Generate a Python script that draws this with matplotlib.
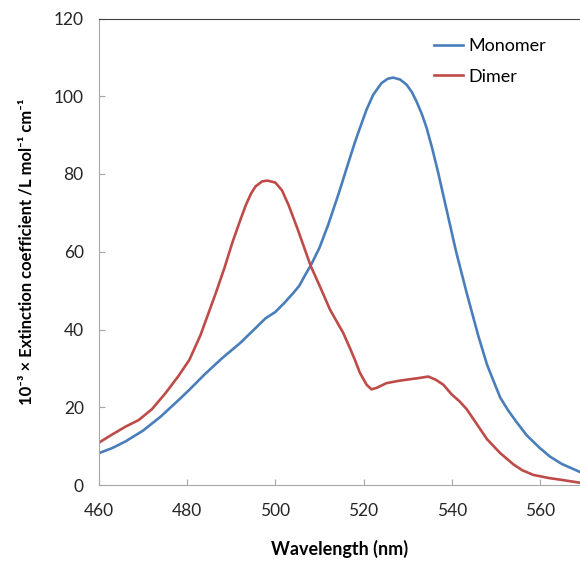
import matplotlib
matplotlib.use("Agg")
import matplotlib.pyplot as plt

plt.rcParams['font.family'] = ['Lato', 'DejaVu Sans']

# Monomer spectrum
mono_wl = [460, 463, 466, 470, 474, 478, 480.5, 484, 488, 492, 495, 497.8, 500,
           502, 504, 505.4, 507, 508, 510, 512, 514.4, 516.2, 518, 519.2, 520.7,
           522.2, 524.1, 525.5, 526.7, 528.3, 529.75, 531, 532, 533.2, 534.3,
           535.6, 536.9, 538.8, 541, 543.4, 546, 548, 549.4, 551, 552.8, 554.7,
           557, 560, 562.3, 565, 569]
mono_val = [8.2, 9.5, 11.2, 14.0, 17.6, 21.8, 24.5, 28.5, 32.7, 36.5, 39.8, 42.9, 44.5,
            46.8, 49.3, 51.2, 54.5, 56.4, 61.0, 67.0, 75.1, 81.6, 88.0, 91.9, 96.6,
            100.4, 103.4, 104.5, 104.8, 104.3, 103.0, 101.0, 98.7, 95.5, 91.9,
            86.5, 80.5, 71.0, 60.0, 49.4, 38.5, 31.0, 27.0, 22.5, 19.2, 16.2,
            12.8, 9.5, 7.3, 5.4, 3.4]

# Dimer spectrum
dim_wl = [460, 463, 466, 469, 472, 475, 478, 480.5, 483, 486.5, 488.5, 490.2, 492,
          493.3, 494.5, 495.5, 497, 498.2, 500, 501.5, 503, 505, 506.5, 508,
          510.1, 512.4, 515.4, 517, 518, 519.2, 520.7, 521.8, 523, 525.2, 528,
          530.5, 532.5, 534.7, 536.5, 538.1, 540, 541.8, 543.4, 545.5, 548, 551,
          554, 556, 558.5, 562, 565, 569]
dim_val = [10.9, 13.0, 15.0, 16.7, 19.5, 23.5, 28.0, 32.2, 38.5, 49.4, 56.0, 62.2, 68.0,
           72.0, 75.0, 76.8, 78.1, 78.3, 77.8, 75.8, 72.0, 66.0, 61.2, 56.4,
           51.1, 45.1, 39.1, 35.0, 32.3, 28.8, 25.8, 24.6, 25.0, 26.2, 26.8,
           27.2, 27.5, 27.9, 27.0, 25.8, 23.3, 21.5, 19.5, 16.0, 11.8, 8.2,
           5.3, 3.8, 2.6, 1.8, 1.3, 0.6]

x_ticks = [460, 480, 500, 520, 540, 560]
y_ticks = [0, 20, 40, 60, 80, 100, 120]

fig = plt.figure(figsize=(5.8, 5.61), dpi=100)
ax = fig.add_axes([99 / 580, 1 - 485 / 561, 1 - 99 / 580, (485 - 18.5) / 561])

ax.plot(mono_wl, mono_val, color='#4a7ebb', lw=1.9, label='Monomer')
ax.plot(dim_wl, dim_val, color='#be4b48', lw=1.9, label='Dimer')

ax.set_xlim(460, 569.1)
ax.set_ylim(0, 120)
ax.set_xticks(x_ticks)
ax.set_yticks(y_ticks)
ax.tick_params(direction='in', length=4.5, color='#a6a6a6', labelsize=12.5,
               labelcolor='#262626')
ax.tick_params(axis='x', pad=13)
ax.tick_params(axis='y', pad=11)

for side in ['left', 'bottom']:
    ax.spines[side].set_color('#a6a6a6')
ax.spines['top'].set_color('#404040')
ax.spines['top'].set_linewidth(0.8)
ax.spines['right'].set_visible(False)

ax.set_xlabel('Wavelength (nm)', fontsize=13, fontweight='bold', labelpad=15)
ax.set_ylabel('10⁻³ × Extinction coefficient /L mol⁻¹ cm⁻¹',
              fontsize=12, fontweight='bold', labelpad=14)

ax.legend(loc='upper left', bbox_to_anchor=(0.678, 0.977), frameon=False,
          fontsize=13, handlelength=1.6, handletextpad=0.3, labelspacing=0.8,
          borderpad=0)

fig.savefig('out.png', dpi=100)
